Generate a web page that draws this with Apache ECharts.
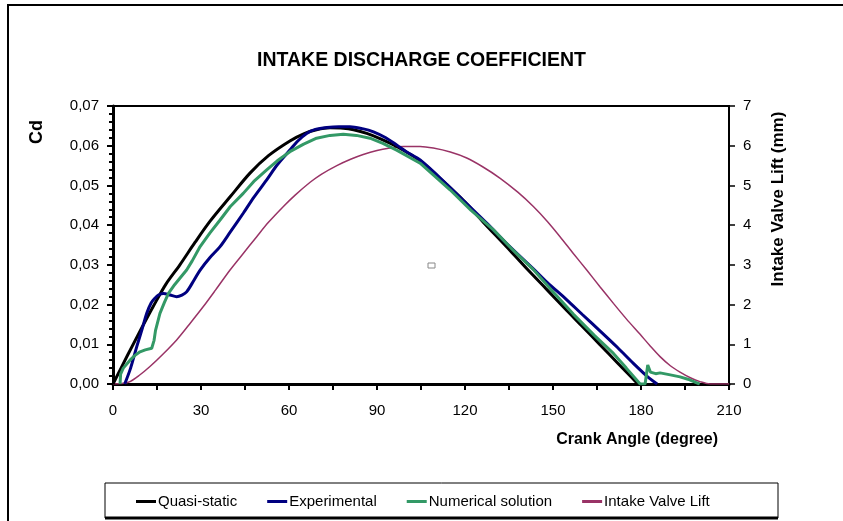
<!DOCTYPE html>
<html>
<head>
<meta charset="utf-8">
<style>
  html, body { margin: 0; padding: 0; background: #fff; }
  #chart { width: 843px; height: 521px; }
</style>
<script src="https://cdn.jsdelivr.net/npm/echarts@6/dist/echarts.min.js"></script>
</head>
<body>
<div id="chart"></div>
<script>
  // 数据 (crank angle in degree, Cd / lift in mm)
  var seriesNames = ['Quasi-static', 'Experimental', 'Numerical solution', 'Intake Valve Lift'];

  var quasiAngle = [0, 5, 10, 13.7, 18, 22.8, 28, 33.1, 40, 46.7, 53, 60.3, 65, 69.4, 74, 78.5, 82, 86.5, 91, 96.7,
    104.7, 112.6, 120, 126.3, 134, 141.1, 148, 154.7, 160, 166, 172, 177, 179];
  var quasiCd = [0, 0.0073, 0.0144, 0.0195, 0.0251, 0.0300, 0.0357, 0.0410, 0.0472, 0.0531, 0.0575, 0.0612, 0.0630,
    0.0640, 0.0645, 0.0644, 0.0640, 0.0631, 0.0618, 0.0598, 0.0562, 0.0510, 0.0458, 0.0407, 0.0347, 0.0290,
    0.0237, 0.0185, 0.0145, 0.0099, 0.0053, 0.0015, 0];

  var expAngle = [4, 6, 8.1, 10, 11.5, 13, 14.3, 15.5, 17.2, 19.5, 21.7, 23.5, 25.1, 27.5, 29.7, 33, 36.5, 40, 44.4,
    48, 52.4, 56, 60.3, 63, 66, 69, 72.9, 77, 80.8, 85, 88.8, 93, 96.7, 100, 104.7, 113.8, 120, 127.4, 135,
    143.3, 148, 154.7, 160, 166, 172, 177.4, 182, 185.5];
  var expCd = [0, 0.004, 0.0094, 0.014, 0.0178, 0.0204, 0.0216, 0.0224, 0.0228, 0.0224, 0.0220, 0.0224, 0.0232,
    0.0260, 0.0287, 0.0318, 0.0346, 0.0383, 0.0430, 0.0470, 0.0514, 0.0552, 0.0589, 0.0612, 0.0631, 0.0641,
    0.0646, 0.0648, 0.0648, 0.0643, 0.0635, 0.0620, 0.0602, 0.0585, 0.0564, 0.0503, 0.0458, 0.0405, 0.0348,
    0.0290, 0.0256, 0.0212, 0.0175, 0.0134, 0.0092, 0.0052, 0.0020, 0];

  var numAngle = [2.4, 2.6, 3.5, 5.8, 7.5, 9.2, 11, 13.2, 14, 14.5, 16, 17.5, 18.9, 21, 23, 25.1, 27, 29.7, 33, 36.5,
    40, 44.4, 48, 52.4, 56, 60.3, 65, 69.4, 74, 78.5, 83, 87.6, 92, 96.7, 104.7, 114.9, 122, 129.7, 136, 143.3,
    150, 156.9, 164, 170.6, 175, 179.7, 181.4, 182.3, 183.2, 185, 186.5, 190, 193.3, 196, 199, 200];
  var numCd = [0, 0.0025, 0.0040, 0.0060, 0.0072, 0.0081, 0.0086, 0.0090, 0.0110, 0.0135, 0.0178, 0.0205, 0.0228,
    0.0250, 0.0268, 0.0287, 0.0310, 0.0346, 0.0380, 0.0413, 0.0447, 0.0480, 0.0510, 0.0539, 0.0562, 0.0585,
    0.0604, 0.0619, 0.0626, 0.0629, 0.0626, 0.0619, 0.0606, 0.0589, 0.0556, 0.0489, 0.0438, 0.0388, 0.0340,
    0.0288, 0.0232, 0.0176, 0.0123, 0.0077, 0.0040, 0, 0, 0.0048, 0.0030, 0.0026, 0.0028, 0.0023, 0.0018,
    0.0012, 0.0003, 0];

  var liftAngle = [0, 3, 5.8, 9, 12.6, 17, 21.7, 26, 30.8, 35, 39.9, 44, 49, 53, 58.1, 62, 67.2, 71, 76.3, 81, 85.3,
    90, 94.4, 99, 104.7, 109.2, 115, 120.6, 126, 132, 138, 143.3, 148, 152.4, 157, 161.5, 166, 170.6, 175,
    179.7, 183, 186.5, 190, 193.3, 197, 200.1, 203.5, 210];
  var liftMm = [0, 0.01, 0.06, 0.22, 0.44, 0.75, 1.11, 1.5, 1.95, 2.37, 2.87, 3.25, 3.71, 4.07, 4.47, 4.75, 5.08,
    5.28, 5.50, 5.66, 5.78, 5.88, 5.94, 5.98, 5.98, 5.94, 5.84, 5.69, 5.47, 5.18, 4.83, 4.47, 4.1, 3.71, 3.28,
    2.87, 2.45, 2.03, 1.64, 1.25, 0.97, 0.69, 0.46, 0.30, 0.15, 0.06, 0, 0];

  function pairs(xs, ys) {
    return xs.map(function (x, i) { return [x, ys[i]]; });
  }

  var narrow = '"Liberation Sans Narrow", "Liberation Sans", Arial, sans-serif';

  var myChart = echarts.init(document.getElementById('chart'));
  var option = {
    animation: false,
    color: ['#000000', '#000080', '#339966', '#993366'],
    title: {
      text: 'INTAKE DISCHARGE COEFFICIENT',
      left: 'center',
      top: 46,
      textStyle: { fontFamily: narrow, fontWeight: 'bold', fontSize: 19.5, color: '#000' }
    },
    grid: {
      left: 113, right: 114, top: 106, bottom: 137,
      show: true, borderColor: '#000', borderWidth: 2
    },
    legend: {
      left: 131, top: 489,
      itemWidth: 20, itemHeight: 3, itemGap: 30,
      icon: 'rect',
      data: seriesNames,
      textStyle: { fontFamily: narrow, fontSize: 15, color: '#000', padding: [0, 0, 0, -3] }
    },
    xAxis: {
      type: 'value', min: 0, max: 210, interval: 30,
      axisLine: { lineStyle: { color: '#000', width: 3 } },
      axisTick: { length: 6, lineStyle: { width: 2 } },
      minorTick: { show: true, splitNumber: 2, length: 6, lineStyle: { color: '#000', width: 2 } },
      splitLine: { show: false },
      axisLabel: { color: '#000', fontFamily: narrow, fontSize: 15, margin: 19 }
    },
    yAxis: [{
      type: 'value', min: 0, max: 0.07, interval: 0.01,
      axisLine: { show: true, lineStyle: { color: '#000', width: 3 } },
      axisTick: { show: true, length: 6, lineStyle: { width: 2 } },
      minorTick: { show: true, splitNumber: 5, length: 4, lineStyle: { color: '#000', width: 2 } },
      splitLine: { show: false },
      axisLabel: {
        color: '#000', fontFamily: narrow, fontSize: 15, margin: 14,
        formatter: function (v) { return v.toFixed(2).replace('.', ','); }
      }
    }, {
      type: 'value', min: 0, max: 7, interval: 1, position: 'right',
      axisLine: { show: true, lineStyle: { color: '#000', width: 2 } },
      axisTick: { show: true, length: 6, lineStyle: { width: 1.5 } },
      splitLine: { show: false },
      axisLabel: { color: '#000', fontFamily: narrow, fontSize: 15, margin: 14 }
    }],
    graphic: [
      { type: 'rect', shape: { x: 8, y: 5, width: 900, height: 600 }, style: { fill: 'none', stroke: '#000', lineWidth: 2 }, silent: true },
      { type: 'rect', shape: { x: 105, y: 483, width: 673, height: 35 }, style: { fill: 'none', stroke: '#000', lineWidth: 1 }, z: -1 },
      { type: 'line', shape: { x1: 105, y1: 518, x2: 778, y2: 518 }, style: { stroke: '#000', lineWidth: 3 } },
      { type: 'rect', shape: { x: 428, y: 263, width: 7, height: 5 }, style: { fill: 'none', stroke: '#888', lineWidth: 1 } },
      {
        type: 'text', x: 37, y: 132, rotation: Math.PI / 2,
        style: { text: 'Cd', fontFamily: narrow, fontWeight: 'bold', fontSize: 18, fill: '#000', align: 'center', verticalAlign: 'middle' }
      },
      {
        type: 'text', x: 778, y: 199, rotation: Math.PI / 2,
        style: { text: 'Intake Valve Lift (mm)', fontFamily: narrow, fontWeight: 'bold', fontSize: 17, fill: '#000', align: 'center', verticalAlign: 'middle' }
      },
      {
        type: 'text', x: 718, y: 440,
        style: { text: 'Crank Angle (degree)', fontFamily: narrow, fontWeight: 'bold', fontSize: 16, fill: '#000', align: 'right', verticalAlign: 'middle' }
      }
    ],
    series: [
      { name: seriesNames[0], type: 'line', showSymbol: false, smooth: 0.3, lineStyle: { width: 3 }, data: pairs(quasiAngle, quasiCd), z: 3 },
      { name: seriesNames[1], type: 'line', showSymbol: false, smooth: 0.3, lineStyle: { width: 3 }, data: pairs(expAngle, expCd), z: 4 },
      { name: seriesNames[2], type: 'line', showSymbol: false, smooth: false, lineStyle: { width: 3 }, data: pairs(numAngle, numCd), z: 5 },
      { name: seriesNames[3], type: 'line', yAxisIndex: 1, showSymbol: false, smooth: 0.3, lineStyle: { width: 1.5 }, data: pairs(liftAngle, liftMm), z: 2 }
    ]
  };
  myChart.setOption(option);
</script>
</body>
</html>
